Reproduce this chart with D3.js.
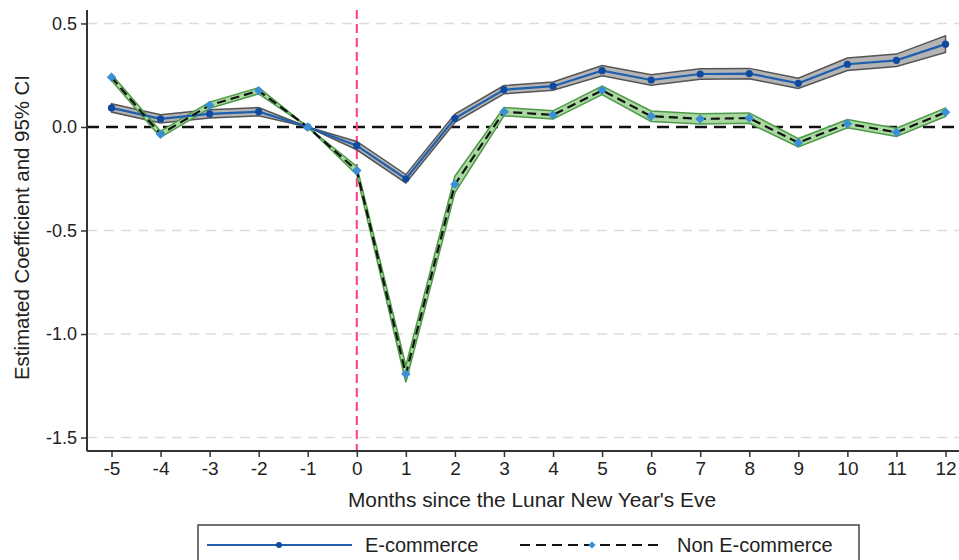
<!DOCTYPE html>
<html><head><meta charset="utf-8">
<script src="https://cdn.jsdelivr.net/npm/d3@7"></script>
<style>
html,body{margin:0;padding:0;background:#fff;}
svg{display:block;font-family:"Liberation Sans",Arial,sans-serif;}
</style></head>
<body>
<svg id="chart" width="959" height="560"></svg>
<script>
const months = [-5,-4,-3,-2,-1,0,1,2,3,4,5,6,7,8,9,10,11,12];
const ecomCoef = [0.092,0.039,0.063,0.074,0,-0.090,-0.250,0.042,0.180,0.197,0.272,0.227,0.256,0.258,0.211,0.303,0.322,0.400];
const ecomLow  = [0.072,0.019,0.043,0.054,0,-0.110,-0.270,0.022,0.160,0.177,0.247,0.202,0.231,0.233,0.186,0.273,0.292,0.360];
const ecomHigh = [0.112,0.059,0.083,0.094,0,-0.070,-0.230,0.062,0.200,0.217,0.297,0.252,0.281,0.283,0.236,0.333,0.352,0.440];
const nonCoef = [0.240,-0.035,0.105,0.175,0,-0.210,-1.193,-0.277,0.074,0.058,0.177,0.052,0.039,0.043,-0.076,0.016,-0.026,0.071];
const nonLow  = [0.225,-0.050,0.090,0.160,0,-0.230,-1.233,-0.317,0.054,0.038,0.157,0.027,0.014,0.018,-0.096,-0.004,-0.046,0.051];
const nonHigh = [0.255,-0.020,0.120,0.190,0,-0.190,-1.153,-0.237,0.094,0.078,0.197,0.077,0.064,0.068,-0.056,0.036,-0.006,0.091];
const yTicks = [0.5,0.0,-0.5,-1.0,-1.5];
const yTickLabels = ["0.5","0.0","-0.5","-1.0","-1.5"];
const xTickLabels = ["-5","-4","-3","-2","-1","0","1","2","3","4","5","6","7","8","9","10","11","12"];
const seriesNames = ["E-commerce","Non E-commerce"];
const xTitle = "Months since the Lunar New Year's Eve";
const yTitle = "Estimated Coefficient and 95% CI";

(function(){
const svg = d3.select("#chart");
const x = d3.scaleLinear().domain([-5,12]).range([111.5,945.5]);
const y = d3.scaleLinear().domain([-1.565,0.565]).range([451,10]);
const pL = 87, pB = 451, pT = 10, pR = 959;

svg.append("g").selectAll("line").data(yTicks.filter(d=>d!==0)).join("line")
  .attr("x1",pL).attr("x2",pR).attr("y1",d=>y(d)).attr("y2",d=>y(d))
  .attr("stroke","#dcdcdc").attr("stroke-width",1.5).attr("stroke-dasharray","10,7");

svg.append("line").attr("x1",pL).attr("x2",pR).attr("y1",y(0)).attr("y2",y(0))
  .attr("stroke","#111").attr("stroke-width",2.5).attr("stroke-dasharray","12,7");

svg.append("line").attr("x1",x(0)).attr("x2",x(0)).attr("y1",pT).attr("y2",pB)
  .attr("stroke","#ff3b8b").attr("stroke-width",2).attr("stroke-dasharray","9,5");

const idx = months.map((d,i)=>i);
const area = (lo,hi)=>d3.area().x(i=>x(months[i])).y0(i=>y(lo[i])).y1(i=>y(hi[i]));
const line = (arr)=>d3.line().x(i=>x(months[i])).y(i=>y(arr[i]));

svg.append("path").attr("d",area(ecomLow,ecomHigh)(idx))
  .attr("fill","#b4b4b4").attr("stroke","#555").attr("stroke-width",1.5);
svg.append("path").attr("d",area(nonLow,nonHigh)(idx))
  .attr("fill","#a9d9a0").attr("stroke","#4f9a48").attr("stroke-width",1.5);

svg.append("path").attr("d",line(ecomCoef)(idx)).attr("fill","none")
  .attr("stroke","#1f5fae").attr("stroke-width",2.2);
svg.append("g").selectAll("circle").data(idx).join("circle")
  .attr("cx",i=>x(months[i])).attr("cy",i=>y(ecomCoef[i])).attr("r",3.6).attr("fill","#0f4aa0");

svg.append("path").attr("d",line(nonCoef)(idx)).attr("fill","none")
  .attr("stroke","#111").attr("stroke-width",2.2).attr("stroke-dasharray","9,5");
const diamond = d3.symbol().type(d3.symbolSquare).size(45);
svg.append("g").selectAll("path").data(idx).join("path")
  .attr("d",diamond).attr("transform",i=>`translate(${x(months[i])},${y(nonCoef[i])}) rotate(45)`)
  .attr("fill","#3a8fd6");

const yAxis = d3.axisLeft(y).tickValues(yTicks).tickFormat((d,i)=>yTickLabels[i]).tickSize(6).tickPadding(4);
const gy = svg.append("g").attr("transform",`translate(${pL},0)`).call(yAxis);
gy.select(".domain").attr("d",`M0,${pT}V${pB}`).attr("stroke","#333").attr("stroke-width",2);
gy.selectAll(".tick line").attr("stroke","#333").attr("stroke-width",1.5);
gy.selectAll(".tick text").attr("font-size",18).attr("fill","#222").attr("font-family","Liberation Sans, Arial, sans-serif");

const xAxis = d3.axisBottom(x).tickValues(months).tickFormat((d,i)=>xTickLabels[i]).tickSize(6).tickPadding(5);
const gx = svg.append("g").attr("transform",`translate(0,${pB})`).call(xAxis);
gx.select(".domain").attr("d",`M${pL},0H${pR}`).attr("stroke","#333").attr("stroke-width",2);
gx.selectAll(".tick line").attr("stroke","#333").attr("stroke-width",1.5);
gx.selectAll(".tick text").attr("font-size",19).attr("fill","#222").attr("font-family","Liberation Sans, Arial, sans-serif");

svg.append("text").attr("x",348).attr("y",507)
  .attr("font-size",20).attr("fill","#222")
  .attr("textLength",368).attr("lengthAdjust","spacingAndGlyphs").text(xTitle);
svg.append("text").attr("transform","translate(29,380) rotate(-90)")
  .attr("font-size",20).attr("fill","#222")
  .attr("textLength",305).attr("lengthAdjust","spacingAndGlyphs").text(yTitle);

svg.append("rect").attr("x",198).attr("y",525).attr("width",661).attr("height",50)
  .attr("fill","#fff").attr("stroke","#444").attr("stroke-width",1.5);
const ly = 545;
svg.append("line").attr("x1",207).attr("x2",352).attr("y1",ly).attr("y2",ly)
  .attr("stroke","#1f5fae").attr("stroke-width",2);
svg.append("circle").attr("cx",279).attr("cy",ly).attr("r",3).attr("fill","#0f4aa0");
svg.append("text").attr("x",365).attr("y",ly+7).attr("font-size",20).attr("fill","#222").text(seriesNames[0]);
svg.append("line").attr("x1",520).attr("x2",662).attr("y1",ly).attr("y2",ly)
  .attr("stroke","#111").attr("stroke-width",2).attr("stroke-dasharray","10,6");
svg.append("path").attr("d",d3.symbol().type(d3.symbolSquare).size(26))
  .attr("transform",`translate(592,${ly}) rotate(45)`).attr("fill","#3a8fd6");
svg.append("text").attr("x",677).attr("y",ly+7).attr("font-size",20).attr("fill","#222").text(seriesNames[1]);
})();
</script>
</body></html>
